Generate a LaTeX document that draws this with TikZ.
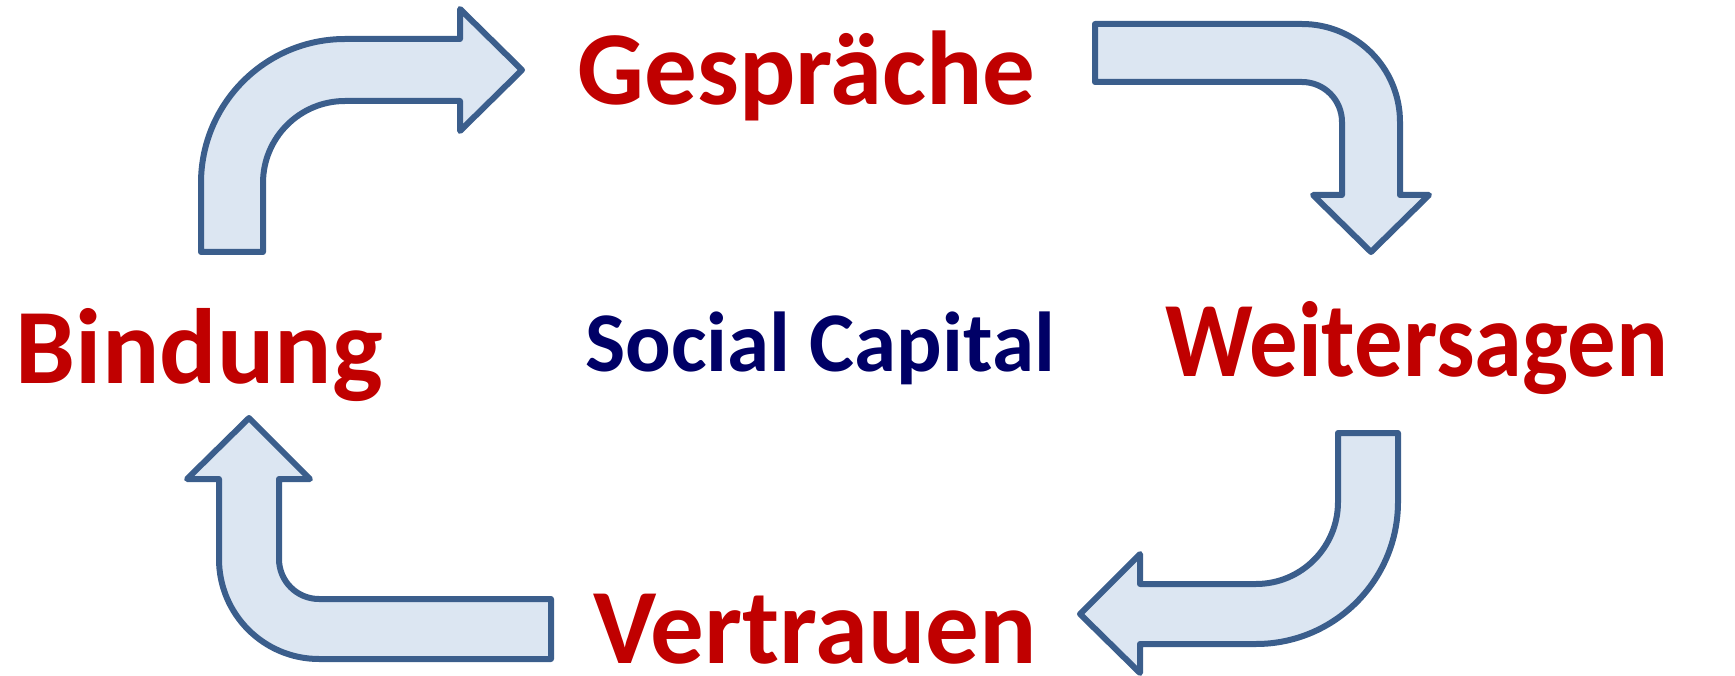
\documentclass[tikz,border=0pt]{standalone}
\usepackage{fontspec}
\usepackage{graphicx}
\setmainfont{Carlito}
\definecolor{arrline}{HTML}{3B5E8C}
\definecolor{arrfill}{HTML}{DCE6F2}
\definecolor{wordred}{HTML}{C00000}
\definecolor{wordnavy}{HTML}{000066}
\tikzset{
  bentarrow/.style={draw=arrline, fill=arrfill, line width=6pt, line join=round},
  word/.style={inner sep=0pt, anchor=base, text=wordred, font=\bfseries\fontsize{107}{120}\selectfont},
  centreword/.style={inner sep=0pt, anchor=base, text=wordnavy, font=\bfseries\fontsize{85}{100}\selectfont}
}
\begin{document}
\begin{tikzpicture}[x=1pt,y=-1pt]
\useasboundingbox (0,0) rectangle (1735,676);
% top-left arrow (Bindung -> Gespraeche)
\draw[bentarrow] (201,252) -- (201,183)
  .. controls (201,103.5) and (265.5,39) .. (345,39)
  -- (460,39) -- (460,9) -- (522,70) -- (460,131) -- (460,101) -- (345,101)
  .. controls (299.7,101) and (263,137.7) .. (263,183)
  -- (263,252) -- cycle;
% top-right arrow (Gespraeche -> Weitersagen)
\draw[bentarrow] (1095,24) -- (1302,24)
  .. controls (1356.1,24) and (1400,67.9) .. (1400,122)
  -- (1400,195) -- (1429,195) -- (1371,252) -- (1313,195) -- (1342,195) -- (1342,122)
  .. controls (1342,99.9) and (1324.1,82) .. (1302,82)
  -- (1095,82) -- cycle;
% bottom-right arrow (Weitersagen -> Vertrauen)
\draw[bentarrow] (1338,433) -- (1398,433) -- (1398,502)
  .. controls (1398,580.4) and (1334.4,644) .. (1256,644)
  -- (1140,644) -- (1140,673) -- (1080,614) -- (1140,554) -- (1140,584) -- (1256,584)
  .. controls (1301.3,584) and (1338,547.3) .. (1338,502)
  -- cycle;
% bottom-left arrow (Vertrauen -> Bindung)
\draw[bentarrow] (551,599) -- (319,599)
  .. controls (296.9,599) and (279,581.1) .. (279,559)
  -- (279,479) -- (310,479) -- (249,418) -- (187,479) -- (219,479) -- (219,559)
  .. controls (219,614.2) and (263.8,659) .. (319,659)
  -- (551,659) -- cycle;
% words
\node[word, font=\bfseries\fontsize{105}{120}\selectfont] (gespraeche) at (806.7,105) {Gespräche};
\node[word] (bindung) at (199.2,383.5) {Bindung};
\node[centreword] (social) at (820,371.7) {Social Capital};
\node[word] (weitersagen) at (1416.7,376) {\scalebox{0.905}[1]{Weitersagen}};
\node[word] (vertrauen) at (815,663.3) {Vertrauen};
\end{tikzpicture}
\end{document}
